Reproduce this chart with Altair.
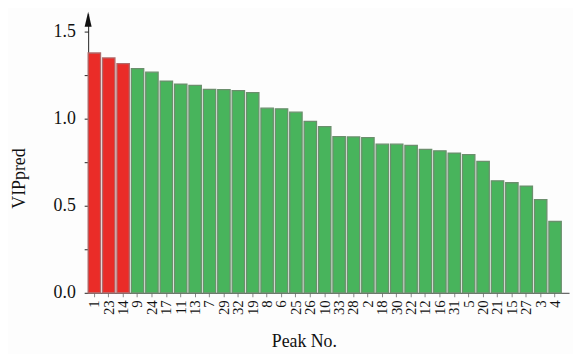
import altair as alt
import pandas as pd

peaks = ["1", "23", "14", "9", "24", "17", "11", "13", "7", "29", "32", "19", "8", "6",
         "25", "26", "10", "33", "28", "2", "18", "30", "22", "12", "16", "31", "5", "20",
         "21", "15", "27", "3", "4"]
vip = [1.375, 1.347, 1.314, 1.286, 1.265, 1.214, 1.197, 1.19, 1.166, 1.165, 1.159, 1.148,
       1.059, 1.055, 1.036, 0.983, 0.953, 0.896, 0.894, 0.89, 0.852, 0.852, 0.845, 0.822,
       0.814, 0.801, 0.792, 0.754, 0.642, 0.631, 0.612, 0.534, 0.409]
highlight = ["1", "23", "14"]
y_ticks = [0, 0.25, 0.5, 0.75, 1.0, 1.25, 1.5]

df = pd.DataFrame({"peak": peaks, "vip": vip})
df["grp"] = ["hi" if p in highlight else "lo" for p in peaks]

FONT = "Liberation Serif"

x_enc = alt.X(
    "peak:N", sort=peaks,
    scale=alt.Scale(paddingInner=0.14, paddingOuter=0.27, align=0),
    axis=alt.Axis(
        title="Peak No.", labelAngle=-90, labelFont=FONT, labelFontSize=15,
        labelColor="#111", tickSize=4, tickColor="#888", labelPadding=3,
        domainColor="#444", titleFont=FONT, titleFontSize=18, titleFontWeight="normal",
        titleColor="#111", titleX=218, titleY=54, titleBaseline="alphabetic",
        titleAlign="center"),
)
y_enc = alt.Y(
    "vip:Q", scale=alt.Scale(domain=[0, 1.6], nice=False),
    axis=alt.Axis(
        title="VIPpred", values=y_ticks,
        labelExpr="datum.value % 0.5 == 0 ? format(datum.value, '.1f') : ''",
        labelFont=FONT, labelFontSize=18, labelColor="#111", tickSize=4,
        tickColor="#222", labelPadding=9, domainColor="#222", grid=False,
        titleFont=FONT, titleFontSize=18, titleFontWeight="normal", titleColor="#111",
        titleX=-64, titleY=166, titleAngle=-90, titleBaseline="alphabetic",
        titleAlign="center"),
)

bars = alt.Chart(df).mark_bar(strokeWidth=1.3).encode(
    x=x_enc, y=y_enc,
    color=alt.Color("grp:N", scale=alt.Scale(domain=["hi", "lo"], range=["#ea2c28", "#48b45c"]),
                    legend=None),
    stroke=alt.Stroke("grp:N", scale=alt.Scale(domain=["hi", "lo"], range=["#b06a6a", "#6b8f6d"]),
                      legend=None),
)

arrow = alt.Chart(pd.DataFrame({"a": [0]})).mark_point(
    shape="M0,-1L0.47,1L-0.47,1Z", filled=True, color="#111", opacity=1, size=225
).encode(x=alt.value(0), y=alt.value(5.5))

chart = alt.layer(bars, arrow).properties(
    width=486, height=282,
    autosize=alt.AutoSizeParams(type="none"),
    padding={"left": 81, "top": 4, "right": 4, "bottom": 60},
    background="#fdfdfd",
).configure_view(stroke=None)

chart.save("out.html", embed_options={"renderer": "svg", "actions": False})
